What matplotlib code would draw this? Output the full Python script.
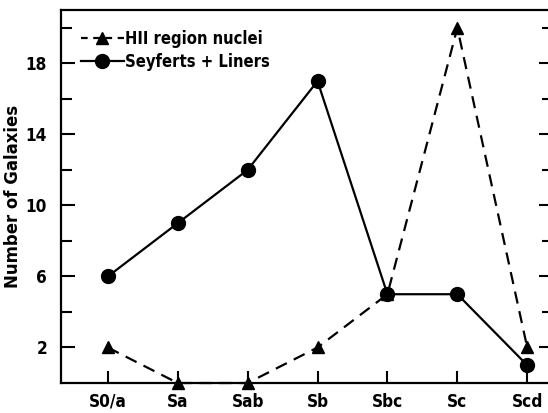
import matplotlib
matplotlib.use('Agg')
import matplotlib.pyplot as plt
from matplotlib import font_manager
from matplotlib.ticker import FixedLocator

# morphological types
types = ['S0/a', 'Sa', 'Sab', 'Sb', 'Sbc', 'Sc', 'Scd']
hii_counts = [2, 0, 0, 2, 5, 20, 2]
seyfert_counts = [6, 9, 12, 17, 5, 5, 1]

# pick a narrow bold face if one exists
names = {f.name for f in font_manager.fontManager.ttflist}
narrow = [n for n in ['Liberation Sans Narrow', 'DejaVu Sans Condensed'] if n in names]
plt.rcParams['font.family'] = narrow + ['DejaVu Sans']
plt.rcParams['font.stretch'] = 'condensed'
plt.rcParams['font.weight'] = 'bold'
k = 1.0 if narrow else 0.88

fig = plt.figure(figsize=(5.48, 4.13), dpi=100)
ax = fig.add_axes([0.1113, 0.0726, 0.898, 0.903])

x = list(range(len(types)))
ax.plot(x, hii_counts, color='black', linestyle=(0, (5.5, 3.5)), linewidth=1.6,
        marker='^', markersize=9, label='HII region nuclei', clip_on=False, zorder=3)
ax.plot(x, seyfert_counts, color='black', linestyle='-', linewidth=1.6,
        marker='o', markersize=10, label='Seyferts + Liners', clip_on=False, zorder=3)

ax.set_xlim(-0.67, 6.37)
ax.set_ylim(0, 21)
ax.set_xticks(x)
ax.set_xticklabels(types, fontsize=14 * k, fontweight='bold')
ax.yaxis.set_major_locator(FixedLocator([2, 6, 10, 14, 18]))
ax.yaxis.set_minor_locator(FixedLocator([4, 8, 12, 16, 20]))
ax.tick_params(axis='y', which='major', direction='in', length=10, width=1.5,
               labelsize=14 * k, right=True, pad=10)
ax.tick_params(axis='y', which='minor', direction='in', length=8, width=1.5, right=True)
ax.tick_params(axis='x', which='major', direction='in', length=9, width=1.5,
               labelsize=14 * k, pad=7)
for lbl in ax.get_yticklabels():
    lbl.set_fontweight('bold')
for s in ax.spines.values():
    s.set_linewidth(1.6)

ax.set_ylabel('Number of Galaxies', fontsize=15 * k, fontweight='bold', labelpad=3)

leg = ax.legend(loc='upper left', frameon=False, handlelength=2.6,
                handletextpad=0.1, borderaxespad=1.0, borderpad=0.2,
                labelspacing=0.3, prop={'weight': 'bold', 'size': 13.5 * k})
leg.get_lines()[0].set_dashes((3, 2.5))

fig.savefig('out.png', dpi=100)
